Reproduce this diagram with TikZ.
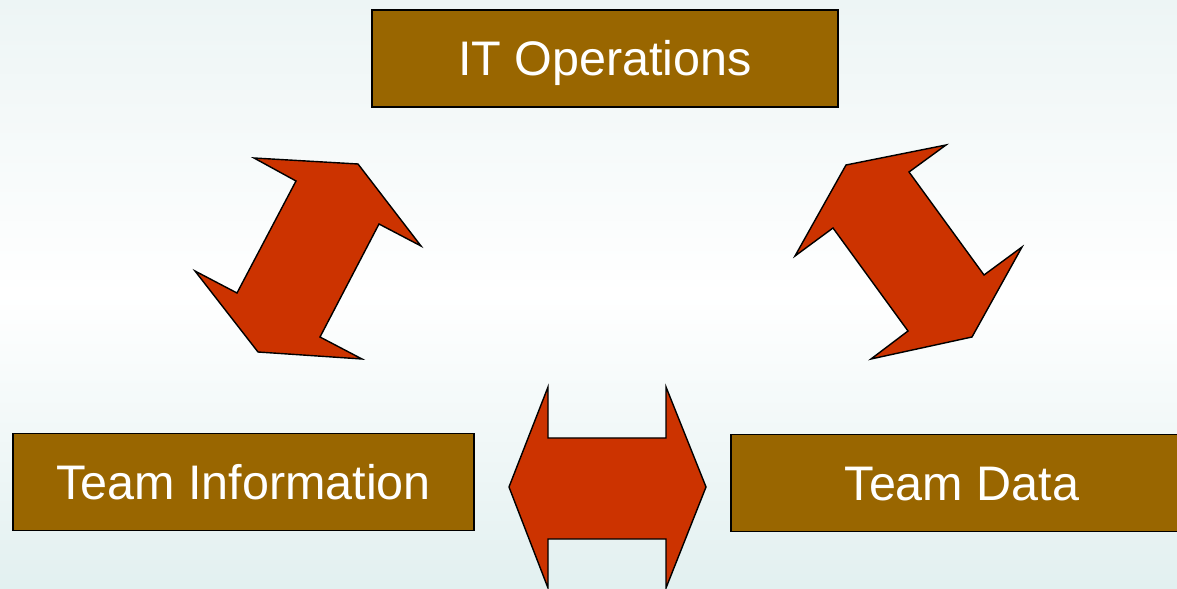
\documentclass[tikz,border=0pt]{standalone}
\usepackage{fontspec}
\setmainfont{Liberation Sans}
\definecolor{boxbrown}{HTML}{996600}
\definecolor{arrowred}{HTML}{CC3300}
\definecolor{bgtop}{HTML}{EDF5F5}
\definecolor{bgbot}{HTML}{E2F0F0}
\begin{document}
\begin{tikzpicture}[x=0.025cm,y=-0.025cm,line width=1pt,
       team box/.style={rectangle,draw=black,fill=boxbrown,text=white,inner sep=0pt,
         minimum height=2.43cm,text height=24.5pt,text depth=0pt,
         font=\fontsize{34.5}{40}\selectfont},
       block arrow/.style={draw=black,fill=arrowred,line join=miter}]

      \clip (0,0) rectangle (1177,589);
      \shade[top color=bgtop,bottom color=bgbot,middle color=white] (0,0) rectangle (1177,589);

      \node[team box,minimum width=11.65cm] at (605,58.5) (ops) {IT Operations};
      \node[team box,minimum width=11.53cm] at (243.5,482) (info) {Team Information};
      \node[team box,minimum width=11.55cm] at (962,483) (data) {Team Data};

      % ops <-> info
      \draw[block arrow] (254,158) -- (358,164) -- (421,246) -- (379,224) -- (320,337)
        -- (362,359) -- (258,352) -- (195,271) -- (237,293) -- (296,181) -- cycle;
      % ops <-> data
      \draw[block arrow] (946,145) -- (846,165) -- (795,256) -- (833,228) -- (908,331)
        -- (871,359) -- (972,337) -- (1022,247) -- (984,275) -- (909,172) -- cycle;
      % info <-> data
      \draw[block arrow] (509,487) -- (548,387) -- (548,438) -- (666,438) -- (666,387)
        -- (706,487) -- (666,588) -- (666,539) -- (548,539) -- (548,588) -- cycle;

    \end{tikzpicture}
\end{document}
